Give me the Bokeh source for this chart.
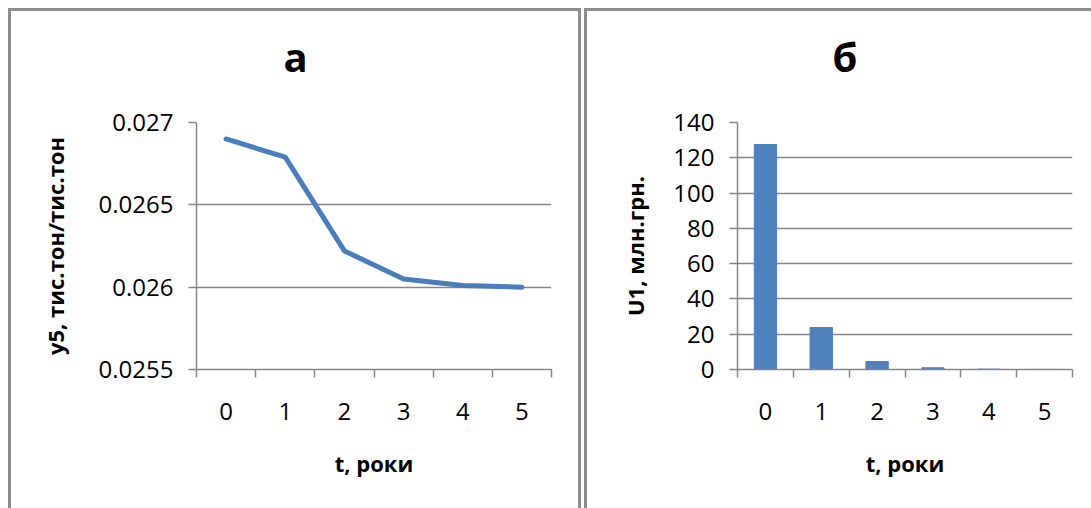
from bokeh.plotting import figure
from bokeh.layouts import row
from bokeh.models import Range1d, FixedTicker, Title
from bokeh.embed import file_html
from bokeh.resources import INLINE

# ---- data ----
t_values = [0, 1, 2, 3, 4, 5]
t_labels = ["0", "1", "2", "3", "4", "5"]
y5_values = [0.0269, 0.02679, 0.02622, 0.02605, 0.02601, 0.02600]
u1_values = [127.5, 23.8, 4.5, 1.0, 0.2, 0.05]
y5_ticks = [0.0255, 0.026, 0.0265, 0.027]
y5_tick_labels = ["0.0255", "0.026", "0.0265", "0.027"]
u1_ticks = [0, 20, 40, 60, 80, 100, 120, 140]
u1_tick_labels = ["0", "20", "40", "60", "80", "100", "120", "140"]
title_a = "а"
title_b = "б"
xlabel = "t, роки"
ylabel_a = "y5, тис.тон/тис.тон"
ylabel_b = "U1, млн.грн."

FONT = "Open Sans"
GRAY = "#868686"
LINE_COLOR = "#4a7ebb"
BAR_COLOR = "#4f81bd"
PANEL_STYLE = {"outline": "3px solid #8c8c8c"}
cat_bounds = [v - 0.5 for v in t_values] + [t_values[-1] + 0.5]


def style(p, yticks, ylabels, ylab, ylab_standoff):
    p.x_range = Range1d(cat_bounds[0], cat_bounds[-1])
    p.outline_line_color = None
    p.xgrid.visible = False
    p.ygrid.grid_line_color = GRAY
    p.ygrid.grid_line_width = 1.5
    p.ygrid.ticker = FixedTicker(ticks=yticks)

    xa = p.xaxis[0]
    xa.ticker = FixedTicker(ticks=t_values, minor_ticks=cat_bounds)
    xa.major_label_overrides = {v: s for v, s in zip(t_values, t_labels)}
    xa.major_tick_line_color = None
    xa.minor_tick_line_color = GRAY
    xa.minor_tick_line_width = 1.5
    xa.minor_tick_out = 8
    xa.minor_tick_in = 0
    xa.axis_line_color = GRAY
    xa.axis_line_width = 1.5
    xa.major_label_text_font = FONT
    xa.major_label_text_font_size = "24px"
    xa.major_label_text_color = "#000000"
    xa.major_label_standoff = 25
    xa.axis_label = xlabel
    xa.axis_label_text_font = FONT
    xa.axis_label_text_font_style = "bold"
    xa.axis_label_text_font_size = "22px"
    xa.axis_label_text_color = "#000000"
    xa.axis_label_standoff = 25

    ya = p.yaxis[0]
    ya.ticker = FixedTicker(ticks=yticks, minor_ticks=[])
    ya.major_label_overrides = {v: s for v, s in zip(yticks, ylabels)}
    ya.major_tick_line_color = GRAY
    ya.major_tick_line_width = 1.5
    ya.major_tick_out = 8
    ya.major_tick_in = 0
    ya.minor_tick_line_color = None
    ya.axis_line_color = GRAY
    ya.axis_line_width = 1.5
    ya.major_label_text_font = FONT
    ya.major_label_text_font_size = "24px"
    ya.major_label_text_color = "#000000"
    ya.major_label_standoff = 15
    ya.axis_label = ylab
    ya.axis_label_text_font = FONT
    ya.axis_label_text_font_style = "bold"
    ya.axis_label_text_font_size = "22px"
    ya.axis_label_text_color = "#000000"
    ya.axis_label_standoff = ylab_standoff


def add_title(p, text, offset):
    # invisible spacer between the frame and the title
    p.add_layout(Title(text=" ", standoff=34, text_font_size="1px", text_color="#ffffff"), "above")
    p.add_layout(Title(text=text, align="left", offset=offset, standoff=4,
                       text_font=FONT, text_font_style="bold", text_font_size="40px",
                       text_color="#000000"), "above")


# ---- panel a ----
p1 = figure(width=567, height=497, output_backend="svg", toolbar_location=None,
            min_border_left=185, min_border_right=27, min_border_top=111,
            min_border_bottom=139, y_range=Range1d(y5_ticks[0], y5_ticks[-1]),
            styles=PANEL_STYLE)
style(p1, y5_ticks, y5_tick_labels, ylabel_a, 26)
p1.line(t_values, y5_values, line_width=5, line_color=LINE_COLOR, line_join="round", line_cap="round")
add_title(p1, title_a, 87)

# ---- panel b ----
p2 = figure(width=504, height=497, output_backend="svg", toolbar_location=None,
            min_border_left=150, min_border_right=19, min_border_top=110,
            min_border_bottom=139, y_range=Range1d(u1_ticks[0], u1_ticks[-1]),
            styles=PANEL_STYLE)
style(p2, u1_ticks, u1_tick_labels, ylabel_b, 20)
p2.vbar(x=t_values, top=u1_values, bottom=0, width=0.4, fill_color=BAR_COLOR, line_color=BAR_COLOR)
add_title(p2, title_b, 95)

layout = row(p1, p2, spacing=9, styles={"margin-left": "11px", "margin-top": "11px"})
open("out.html", "w").write(file_html(layout, INLINE))
